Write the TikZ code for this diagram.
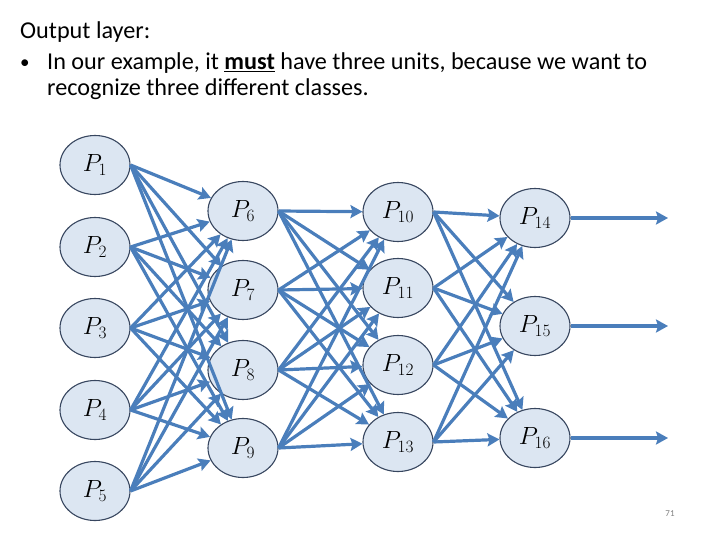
\documentclass[tikz,border=0pt]{standalone}
\usepackage{fontspec}
\setmainfont{Carlito}
\usepackage{tikz}
\usetikzlibrary{arrows.meta,positioning,shapes.geometric}
\definecolor{linkblue}{RGB}{74,126,187}
\definecolor{unitfill}{RGB}{220,230,242}
\definecolor{unitline}{RGB}{55,70,95}

\begin{document}
\begin{tikzpicture}[x=1pt,y=-1pt,
  unit/.style={ellipse,draw=unitline,fill=unitfill,line width=1.1pt,minimum width=70pt,minimum height=59pt,inner sep=0pt,font=\fontsize{23}{27}\selectfont},
  link/.style={draw=linkblue,line width=3.2pt,-{Stealth[length=12pt,width=13pt,inset=2pt]}},
  txt/.style={anchor=base west,inner sep=0pt,font=\fontsize{24.2}{29}\selectfont}]
\useasboundingbox (0,0) rectangle (720,540);
% heading
\node[txt] (head) at (20,39) {Output layer:};
\node[txt,font=\fontsize{19}{22}\selectfont] (dot) at (20,69) {•};
\node[txt] (line1) at (47,70) {In our example, it \textbf{\underline{must}} have three units, because we want to};
\node[txt] (line2) at (47,96) {recognize three different classes.};
% input layer
\node[unit] (p1) at (95,165) {$P_1$};
\node[unit] (p2) at (95,247) {$P_2$};
\node[unit] (p3) at (95,328) {$P_3$};
\node[unit] (p4) at (95,410) {$P_4$};
\node[unit] (p5) at (95,491) {$P_5$};
% hidden layers
\node[unit] (p6) at (243,211) {$P_6$};
\node[unit] (p7) at (243,290) {$P_7$};
\node[unit] (p8) at (243,370) {$P_8$};
\node[unit] (p9) at (243,448) {$P_9$};
\node[unit] (p10) at (398,212) {$P_{10}$};
\node[unit] (p11) at (398,288) {$P_{11}$};
\node[unit] (p12) at (398,365) {$P_{12}$};
\node[unit] (p13) at (398,442) {$P_{13}$};
% output layer
\node[unit] (p14) at (535,218) {$P_{14}$};
\node[unit] (p15) at (535,326) {$P_{15}$};
\node[unit] (p16) at (535,438) {$P_{16}$};
\coordinate (o14) at (668,218);
\coordinate (o15) at (668,326);
\coordinate (o16) at (668,438);
% connections
\foreach \s in {1,...,5} \foreach \t in {6,...,9} \draw[link] (p\s.east) -- (p\t);
\foreach \s in {6,...,9} \foreach \t in {10,...,13} \draw[link] (p\s.east) -- (p\t);
\foreach \s in {10,...,13} \foreach \t in {14,15,16} \draw[link] (p\s.east) -- (p\t);
\foreach \t in {14,15,16} \draw[link] (p\t.east) -- (o\t);
\node[font=\fontsize{9}{11}\selectfont,text=gray] (page) at (670,514) {71};
\end{tikzpicture}
\end{document}
